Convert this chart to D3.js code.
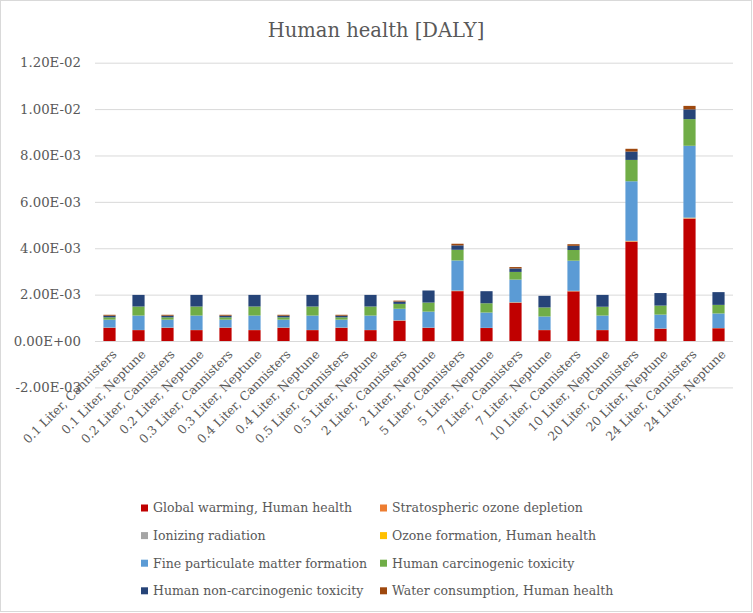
<!DOCTYPE html>
<html><head><meta charset="utf-8">
<script src="https://cdn.jsdelivr.net/npm/d3@7"></script>
<style>
body{margin:0;background:#fff;}
text{font-family:"DejaVu Serif",serif;fill:#595959;}
</style></head>
<body><svg id="c" width="753" height="613"></svg>
<script>
const categories = ["0.1 Liter, Cannisters","0.1 Liter, Neptune","0.2 Liter, Cannisters","0.2 Liter, Neptune","0.3 Liter, Cannisters","0.3 Liter, Neptune","0.4 Liter, Cannisters","0.4 Liter, Neptune","0.5 Liter, Cannisters","0.5 Liter, Neptune","2 Liter, Cannisters","2 Liter, Neptune","5 Liter, Cannisters","5 Liter, Neptune","7 Liter, Cannisters","7 Liter, Neptune","10 Liter, Cannisters","10 Liter, Neptune","20 Liter, Cannisters","20 Liter, Neptune","24 Liter, Cannisters","24 Liter, Neptune"];
const seriesNames = ["Global warming, Human health","Stratospheric ozone depletion","Ionizing radiation","Ozone formation, Human health","Fine particulate matter formation","Human carcinogenic toxicity","Human non-carcinogenic toxicity","Water consumption, Human health"];
const seriesColors = ["#C00000","#ED7D31","#A5A5A5","#FFC000","#5B9BD5","#70AD47","#264478","#9E480E"];
const globalWarming = [0.00057,0.00047,0.00057,0.00047,0.00057,0.00047,0.00057,0.00047,0.00057,0.00047,0.000875,0.00057,0.00215,0.00056,0.00165,0.00047,0.00214,0.00047,0.00428,0.00053,0.00527,0.00055];
const stratOzone = [0.000005,0.000003,0.000005,0.000003,0.000005,0.000003,0.000005,0.000003,0.000005,0.000003,0.000008,0.000003,0.000012,0.000003,0.00001,0.000003,0.000012,0.000003,0.00002,0.000003,0.000025,0.000003];
const ionizing = [0.000002,0.000002,0.000002,0.000002,0.000002,0.000002,0.000002,0.000002,0.000002,0.000002,0.000003,0.000002,0.000004,0.000002,0.000003,0.000002,0.000004,0.000002,0.000006,0.000002,0.000008,0.000002];
const ozoneFormation = [0.000004,0.000003,0.000004,0.000003,0.000004,0.000003,0.000004,0.000003,0.000004,0.000003,0.000005,0.000003,0.000008,0.000003,0.000006,0.000003,0.000008,0.000003,0.000012,0.000003,0.000015,0.000003];
const fineParticulate = [0.00034,0.00062,0.00034,0.00062,0.00034,0.00062,0.00034,0.00062,0.00034,0.00062,0.0005,0.00069,0.0013,0.00066,0.00098,0.00058,0.0013,0.00062,0.00257,0.0006,0.0031,0.00063];
const carcinogenic = [0.0001,0.00039,0.0001,0.00039,0.0001,0.00039,0.0001,0.00039,0.0001,0.00039,0.00021,0.00039,0.00046,0.0004,0.00033,0.00039,0.00046,0.00038,0.00092,0.00039,0.00115,0.00037];
const nonCarcinogenic = [0.00007,0.0005,0.00007,0.0005,0.00007,0.0005,0.00007,0.0005,0.00007,0.0005,0.0001,0.00052,0.00019,0.00052,0.00015,0.0005,0.00018,0.00051,0.00036,0.00054,0.00042,0.00055];
const waterConsumption = [0.00004,-0.000005,0.00004,-0.000005,0.00004,-0.000005,0.00004,-0.000005,0.00004,-0.000005,0.00004,-0.000008,0.00007,-0.000008,0.00006,-0.000008,0.00007,-0.000008,0.00012,-0.00001,0.00015,-0.00001];
const yTicks = [-0.002,0,0.002,0.004,0.006,0.008,0.01,0.012];
const titleText = "Human health [DALY]";

const seriesValues = [globalWarming,stratOzone,ionizing,ozoneFormation,fineParticulate,carcinogenic,nonCarcinogenic,waterConsumption];
const rows = categories.map((c,i)=>{const r={cat:c}; seriesNames.forEach((s,j)=>r[s]=seriesValues[j][i]); return r;});

const svg = d3.select("#c");
svg.append("rect").attr("x",0.5).attr("y",0.5).attr("width",751).attr("height",611).attr("fill","#fff").attr("stroke","#d9d9d9");

const x = d3.scaleBand().domain(categories).range([95,733]).paddingInner(0.58).paddingOuter(0.29);
const y = d3.scaleLinear().domain([-0.002,0.012]).range([387.4,62.7]);

const fmt = v => { if (v===0) return "0.00E+00"; const e=Math.floor(Math.log10(Math.abs(v))+1e-9); const m=v/Math.pow(10,e); return m.toFixed(2)+"E"+(e<0?"-":"+")+String(Math.abs(e)).padStart(2,"0"); };

const yAxis = d3.axisLeft(y).tickValues(yTicks).tickSize(-(733-95)).tickFormat(fmt).tickPadding(14);
const ga = svg.append("g").attr("transform","translate(95,0)").call(yAxis);
ga.select(".domain").remove();
ga.selectAll(".tick line").attr("stroke","#d9d9d9").attr("stroke-width",1);
ga.selectAll(".tick text").attr("font-size",13.3).attr("fill","#595959").style("font-family","'DejaVu Serif',serif");

const stack = d3.stack().keys(seriesNames).offset(d3.stackOffsetDiverging);
const stacked = stack(rows);
svg.append("g").selectAll("g").data(stacked).join("g").attr("fill",(d,i)=>seriesColors[i])
  .selectAll("rect").data(d=>d).join("rect")
  .attr("x",d=>x(d.data.cat)).attr("width",x.bandwidth())
  .attr("y",d=>y(Math.max(d[0],d[1]))).attr("height",d=>Math.abs(y(d[0])-y(d[1])));

svg.append("g").selectAll("text").data(categories).join("text")
  .attr("transform",d=>`translate(${x(d)+x.bandwidth()/2+5},352) rotate(-45)`)
  .attr("text-anchor","end").attr("dy","0.35em").attr("font-size",12.2).text(d=>d);

svg.append("text").attr("x",376).attr("y",37).attr("text-anchor","middle").attr("font-size",19.5).text(titleText);

const lg = svg.append("g");
seriesNames.forEach((s,i)=>{
  const col=i%2, row=Math.floor(i/2);
  const gx = col===0?141:380, gy = 508+row*27.6;
  lg.append("rect").attr("x",gx).attr("y",gy-3.5).attr("width",7).attr("height",7).attr("fill",seriesColors[i]);
  lg.append("text").attr("x",gx+12).attr("y",gy).attr("dy","0.35em").attr("font-size",12.5).text(s);
});
</script></body></html>
